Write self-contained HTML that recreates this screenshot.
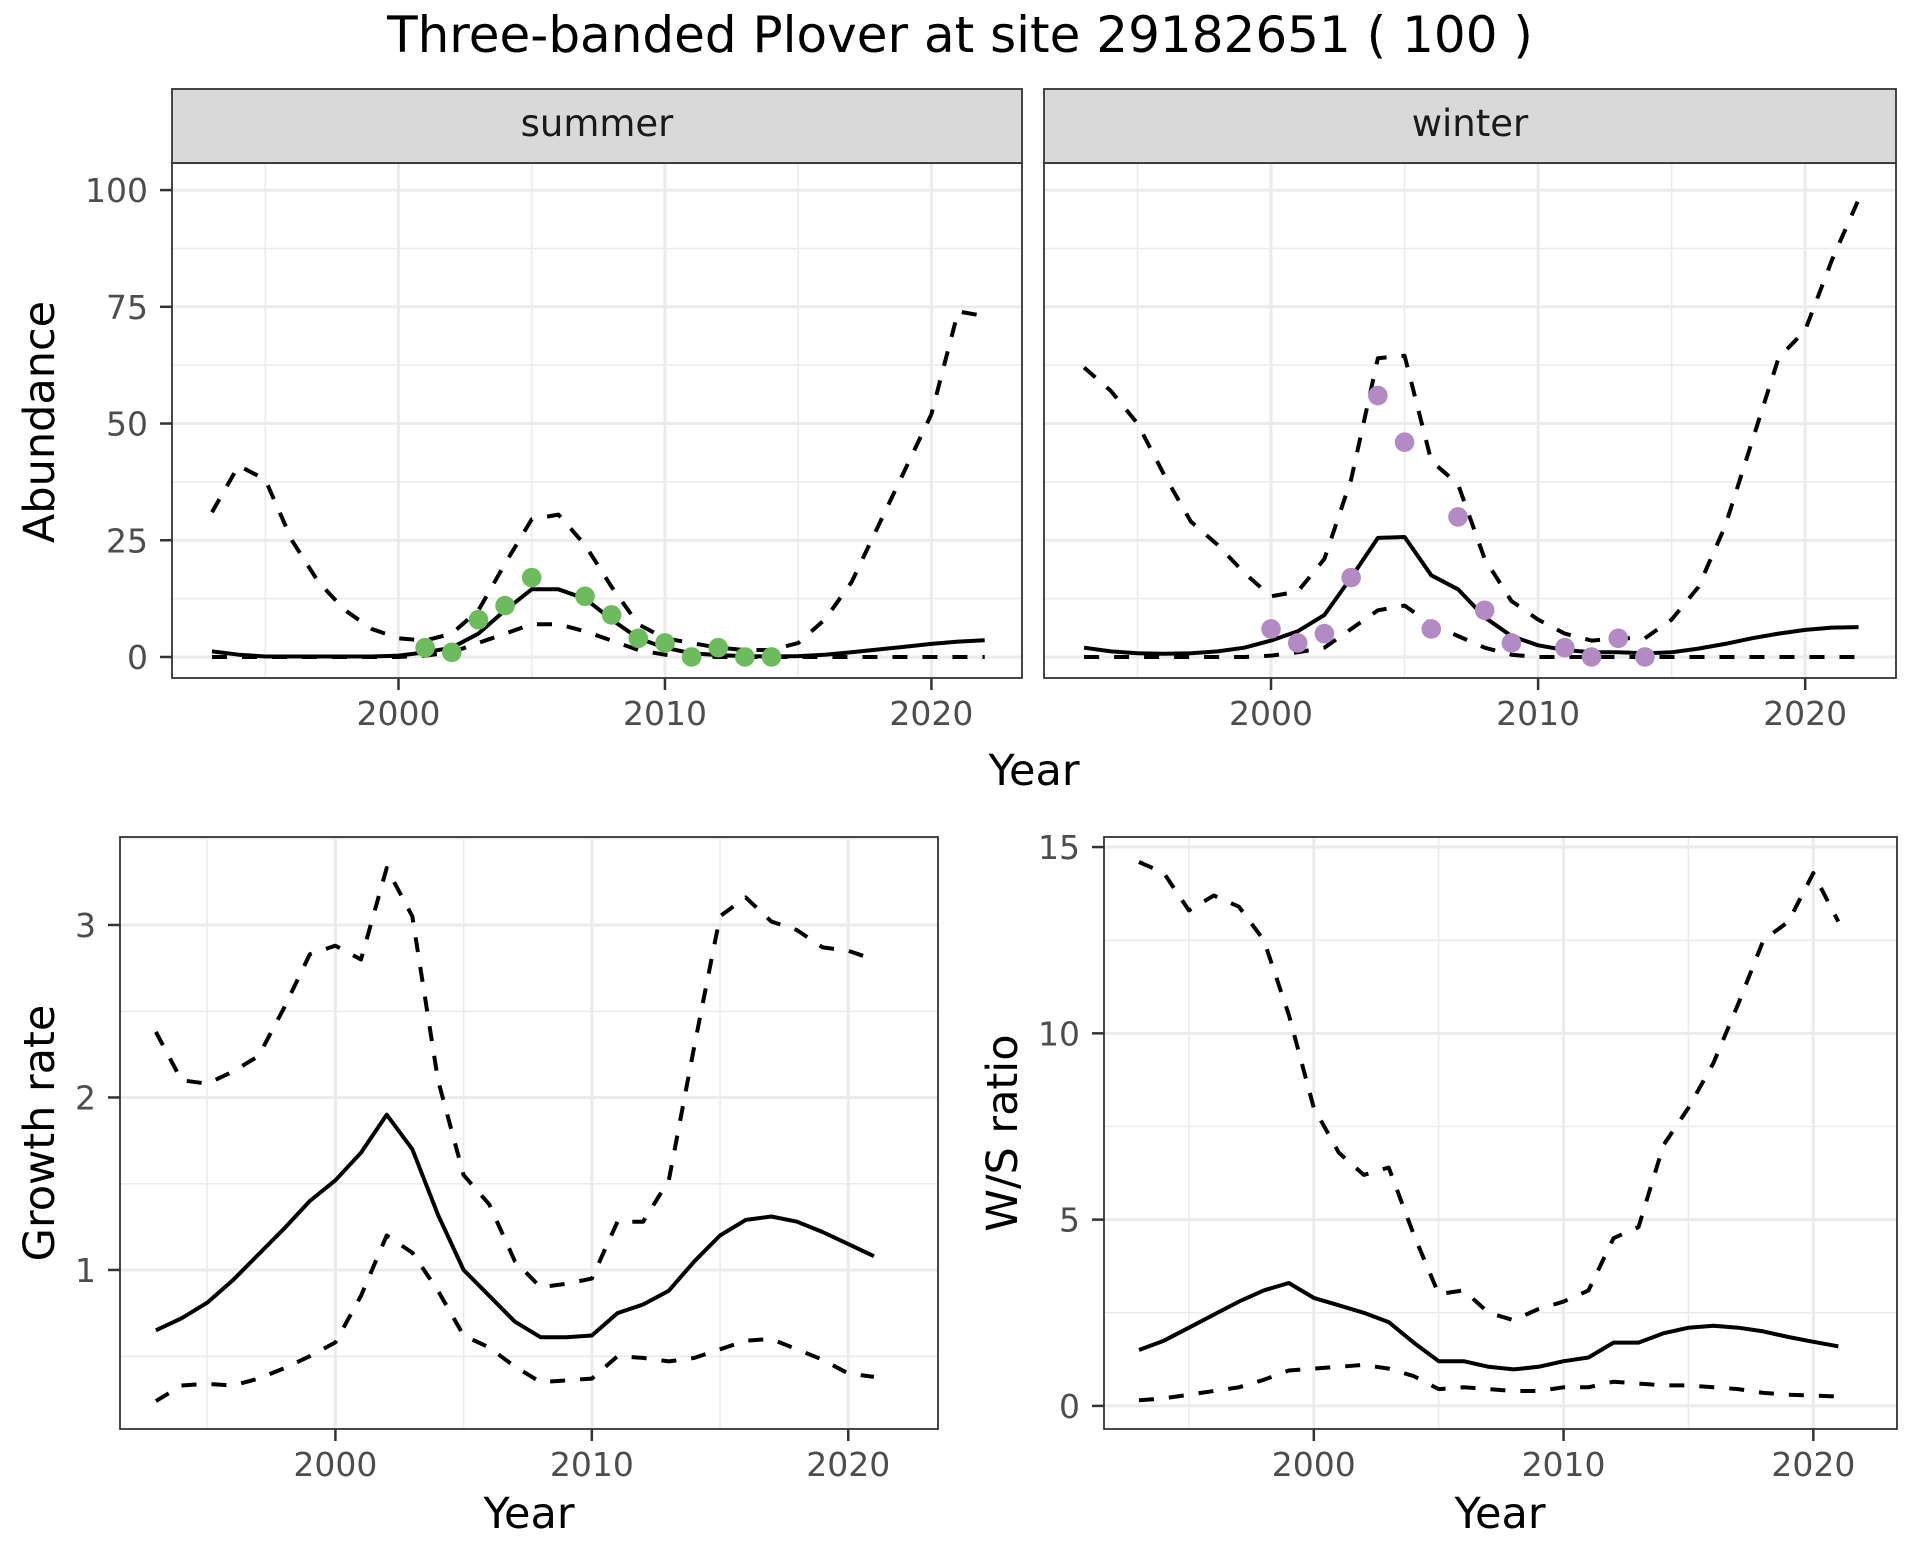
<!DOCTYPE html>
<html><head><meta charset="utf-8"><style>
html,body{margin:0;padding:0;background:#fff;}
svg{display:block;font-family:"DejaVu Sans","Liberation Sans",sans-serif;}
</style></head><body>
<svg id="fig" width="1920" height="1560" viewBox="0 0 1920 1560" xmlns="http://www.w3.org/2000/svg">
<rect width="1920" height="1560" fill="#fff"/>
<text x="960" y="52" font-size="50" text-anchor="middle" fill="#000">Three-banded Plover at site 29182651 ( 100 )</text>
</svg>
<script>
// ---------- data ----------
const absYears = [1993,1994,1995,1996,1997,1998,1999,2000,2001,2002,2003,2004,2005,2006,2007,2008,2009,2010,2011,2012,2013,2014,2015,2016,2017,2018,2019,2020,2021,2022];
const summerMean = [1.2,0.5,0.1,0.1,0.1,0.1,0.1,0.3,1,2,5,10,14.5,14.5,12.5,8,4,2,0.8,0.4,0.2,0.1,0.2,0.5,1,1.6,2.2,2.8,3.3,3.6];
const summerUpper = [31,41,38,25,16,10,6,4,3.5,5,10,20,29.5,30.5,24,15,7,4,3,2,1.5,1.5,3,8,16,28,40,52,74,73];
const summerLower = [0,0,0,0,0,0,0,0,0.3,1,3,5,7,7,5.5,3.5,1.5,0.5,0.2,0,0,0,0,0,0,0,0,0,0,0];
const summerObsYears = [2001,2002,2003,2004,2005,2007,2008,2009,2010,2011,2012,2013,2014];
const summerObs = [2,1,8,11,17,13,9,4,3,0,2,0,0];
const winterMean = [2,1.2,0.8,0.7,0.8,1.2,2,3.5,5.5,9,17,25.5,25.7,17.5,14.5,8.5,4.5,2.5,1.5,1,1,0.8,1,1.8,2.8,4,5,5.8,6.3,6.4];
const winterUpper = [62,57,50,39,29,24,18,13,14,21,38,64,64.5,42,37,21,12,8,5,3.5,4,4,8,15,28,46,64,70,85,98];
const winterLower = [0,0,0,0,0,0,0,0.3,1,2,6,10,11,7,4.5,2,0.5,0,0,0,0,0,0,0,0,0,0,0,0,0];
const winterObsYears = [2000,2001,2002,2003,2004,2005,2006,2007,2008,2009,2011,2012,2013,2014];
const winterObs = [6,3,5,17,56,46,6,30,10,3,2,0,4,0];
const ratioYears = [1993,1994,1995,1996,1997,1998,1999,2000,2001,2002,2003,2004,2005,2006,2007,2008,2009,2010,2011,2012,2013,2014,2015,2016,2017,2018,2019,2020,2021];
const growthMean = [0.65,0.72,0.81,0.94,1.09,1.24,1.40,1.52,1.68,1.90,1.70,1.32,1.00,0.85,0.70,0.61,0.61,0.62,0.75,0.80,0.88,1.05,1.20,1.29,1.31,1.28,1.22,1.15,1.08];
const growthUpper = [2.38,2.10,2.08,2.15,2.24,2.52,2.83,2.88,2.80,3.33,3.05,2.10,1.55,1.38,1.05,0.90,0.92,0.95,1.28,1.28,1.52,2.30,3.05,3.16,3.02,2.97,2.87,2.85,2.80];
const growthLower = [0.24,0.33,0.34,0.33,0.37,0.43,0.50,0.58,0.85,1.20,1.10,0.88,0.62,0.55,0.44,0.35,0.36,0.37,0.50,0.49,0.47,0.49,0.54,0.59,0.60,0.54,0.48,0.40,0.38];
const wsMean = [1.5,1.75,2.1,2.45,2.8,3.1,3.3,2.9,2.7,2.5,2.25,1.7,1.2,1.2,1.05,0.98,1.05,1.2,1.3,1.7,1.7,1.95,2.1,2.15,2.1,2.0,1.85,1.72,1.6];
const wsUpper = [14.6,14.3,13.3,13.7,13.4,12.5,10.5,8.0,6.8,6.2,6.4,4.6,3.0,3.1,2.5,2.3,2.6,2.8,3.1,4.5,4.8,7.0,8.0,9.2,10.8,12.5,13.0,14.3,13.0];
const wsLower = [0.15,0.2,0.3,0.4,0.5,0.7,0.95,1.0,1.05,1.1,1.0,0.8,0.45,0.5,0.45,0.4,0.4,0.5,0.5,0.65,0.6,0.55,0.55,0.5,0.45,0.35,0.3,0.28,0.25];
const xTicks = [2000,2010,2020];
const xMinor = [1995,2005,2015];
const absTicks = [0,25,50,75,100];
const absMinor = [12.5,37.5,62.5,87.5];
const growthTicks = [1,2,3];
const growthMinor = [0.5,1.5,2.5,3.5];
const wsTicks = [0,5,10,15];
const wsMinor = [2.5,7.5,12.5];

// ---------- drawing ----------
const NS = "http://www.w3.org/2000/svg";
const svg = document.getElementById('fig');
function mk(tag, attrs, parent){
  const e = document.createElementNS(NS, tag);
  for (const k in attrs) e.setAttribute(k, attrs[k]);
  (parent||svg).appendChild(e);
  return e;
}
function panel(cfg){
  const g = mk('g', {});
  
  
  const {x0,x1,y0,y1,xmin,xmax,ymin,ymax} = cfg;
  const sx = v => x0 + (v - xmin) / (xmax - xmin) * (x1 - x0);
  const sy = v => y1 - (v - ymin) / (ymax - ymin) * (y1 - y0);
  mk('rect', {x:x0, y:y0, width:x1-x0, height:y1-y0, fill:'#fff'}, g);
  cfg.yMinor.forEach(v => { if (sy(v) > y0) mk('line', {x1:x0, x2:x1, y1:sy(v), y2:sy(v), stroke:'#ebebeb', 'stroke-width':1.5}, g); });
  xMinor.forEach(v => mk('line', {x1:sx(v), x2:sx(v), y1:y0, y2:y1, stroke:'#ebebeb', 'stroke-width':1.5}, g));
  cfg.yTicks.forEach(v => mk('line', {x1:x0, x2:x1, y1:sy(v), y2:sy(v), stroke:'#ebebeb', 'stroke-width':3}, g));
  xTicks.forEach(v => mk('line', {x1:sx(v), x2:sx(v), y1:y0, y2:y1, stroke:'#ebebeb', 'stroke-width':3}, g));
  const line = (ys, dash, nm) => {
    const d = cfg.years.map((yr,i) => (i ? 'L' : 'M') + sx(yr).toFixed(1) + ',' + sy(ys[i]).toFixed(1)).join(' ');
    const p = mk('path', {d, fill:'none', stroke:'#000', 'stroke-width':4, 'stroke-linejoin':'round'}, g);
    if (dash) p.setAttribute('stroke-dasharray', '15,15');
    
    
  };
  line(cfg.lower, true, 'lower-bound-line');
  line(cfg.upper, true, 'upper-bound-line');
  line(cfg.mean, false, 'mean-line');
  if (cfg.obs) cfg.obsYears.forEach((yr,i) => {
    const c = mk('circle', {cx:sx(yr), cy:sy(cfg.obs[i]), r:9.8, fill:cfg.color}, g);
    
    
  });
  mk('rect', {x:x0, y:y0, width:x1-x0, height:y1-y0, fill:'none', stroke:'#333', 'stroke-width':1.8}, g);
  xTicks.forEach(v => {
    mk('line', {x1:sx(v), x2:sx(v), y1:y1, y2:y1+12, stroke:'#333', 'stroke-width':2.5}, g);
    const t = mk('text', {x:sx(v), y:y1+47, 'font-size':33, fill:'#4d4d4d', 'text-anchor':'middle'}, g);
    t.textContent = v;
    
    
  });
  if (cfg.showY) cfg.yTicks.forEach(v => {
    mk('line', {x1:x0-12, x2:x0, y1:sy(v), y2:sy(v), stroke:'#333', 'stroke-width':2.5}, g);
    const t = mk('text', {x:x0-24, y:sy(v)+12, 'font-size':33, fill:'#4d4d4d', 'text-anchor':'end'}, g);
    t.textContent = v;
    
    
  });
  if (cfg.strip) {
    mk('rect', {x:x0, y:89, width:x1-x0, height:y0-89, fill:'#d9d9d9', stroke:'#333', 'stroke-width':1.8}, g);
    const t = mk('text', {x:(x0+x1)/2, y:136, 'font-size':37, fill:'#1a1a1a', 'text-anchor':'middle'}, g);
    t.textContent = cfg.strip;
    
    
  }
}
function label(txt, x, y, rot, nm){
  const t = mk('text', {x, y, 'font-size':43, fill:'#000', 'text-anchor':'middle'});
  if (rot) t.setAttribute('transform', `rotate(-90 ${x} ${y})`);
  t.textContent = txt;
  
  
}
const topY0 = 163, topY1 = 678;
panel({name:'summer-panel', strip:'summer', x0:172, x1:1022, y0:topY0, y1:topY1, xmin:1991.5, xmax:2023.4, ymin:-4.5, ymax:105.8,
  years:absYears, mean:summerMean, upper:summerUpper, lower:summerLower, obsYears:summerObsYears, obs:summerObs, color:'#6cbb5c',
  yTicks:absTicks, yMinor:absMinor, showY:true});
panel({name:'winter-panel', strip:'winter', x0:1044, x1:1896, y0:topY0, y1:topY1, xmin:1991.5, xmax:2023.4, ymin:-4.5, ymax:105.8,
  years:absYears, mean:winterMean, upper:winterUpper, lower:winterLower, obsYears:winterObsYears, obs:winterObs, color:'#b48ac4',
  yTicks:absTicks, yMinor:absMinor, showY:false});
panel({name:'growth-rate-panel', x0:120, x1:938, y0:837, y1:1429, xmin:1991.6, xmax:2023.5, ymin:0.078, ymax:3.51,
  years:ratioYears, mean:growthMean, upper:growthUpper, lower:growthLower, yTicks:growthTicks, yMinor:growthMinor, showY:true});
panel({name:'ws-ratio-panel', x0:1104, x1:1897, y0:837, y1:1429, xmin:1991.6, xmax:2023.35, ymin:-0.62, ymax:15.27,
  years:ratioYears, mean:wsMean, upper:wsUpper, lower:wsLower, yTicks:wsTicks, yMinor:wsMinor, showY:true});
label('Year', 1034, 785, false, 'top-x-axis-title');
label('Abundance', 54, 422, true, 'top-y-axis-title');
label('Year', 529, 1528, false, 'growth-x-axis-title');
label('Growth rate', 54, 1133, true, 'growth-y-axis-title');
label('Year', 1500, 1528, false, 'ws-x-axis-title');
label('W/S ratio', 1017, 1133, true, 'ws-y-axis-title');
</script>
</body></html>
